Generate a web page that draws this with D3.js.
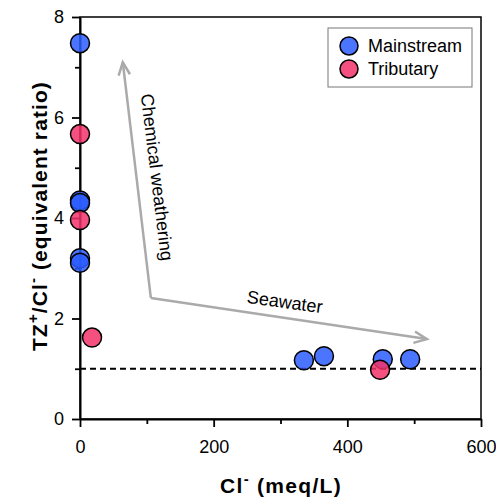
<!DOCTYPE html>
<html>
<head>
<meta charset="utf-8">
<script src="https://cdn.jsdelivr.net/npm/d3@7"></script>
<style>
  body { margin: 0; background: #fff; }
  svg text { font-family: "Liberation Sans", Arial, Helvetica, sans-serif; }
</style>
</head>
<body>
<svg id="chart" width="496" height="500"></svg>
<script>
// Cl- concentration (meq/L) vs TZ+/Cl- equivalent ratio
const mainstreamCl    = [0, 0, 0, 0, 0, 335, 365, 453, 494];
const mainstreamRatio = [7.48, 4.35, 4.30, 3.20, 3.11, 1.17, 1.25, 1.19, 1.19];
const tributaryCl     = [0, 0, 18, 449];
const tributaryRatio  = [5.67, 3.96, 1.62, 0.98];

const xTicks = [0, 200, 400, 600];
const yTicks = [0, 2, 4, 6, 8];
const xMinorTicks = [100, 300, 500];
const yMinorTicks = [1, 3, 5, 7];

// Trend arrows (data space): corner, then the two tips
const weatheringArrow = [[106, 2.41], [64, 7.1]];
const seawaterArrow   = [[106, 2.41], [519, 1.59]];
const referenceRatio = 1;

const svg = d3.select("#chart");
const x = d3.scaleLinear().domain([0, 600]).range([80, 481]);
const y = d3.scaleLinear().domain([0, 8]).range([419, 17]);

// Frame
svg.append("rect")
  .attr("x", x(0)).attr("y", y(8))
  .attr("width", x(600) - x(0)).attr("height", y(0) - y(8))
  .attr("fill", "none").attr("stroke", "#000").attr("stroke-width", 1.5);

// Axes
svg.append("g").attr("transform", `translate(0,${y(0)})`)
  .call(d3.axisBottom(x).tickValues(xTicks).tickSize(8).tickSizeOuter(0).tickPadding(13));
svg.append("g").attr("transform", `translate(0,${y(0)})`)
  .call(d3.axisBottom(x).tickValues(xMinorTicks).tickSize(5).tickFormat("").tickSizeOuter(0))
  .select(".domain").remove();
svg.append("g").attr("transform", `translate(${x(0)},0)`)
  .call(d3.axisLeft(y).tickValues(yTicks).tickSize(8).tickSizeOuter(0).tickPadding(8));
svg.append("g").attr("transform", `translate(${x(0)},0)`)
  .call(d3.axisLeft(y).tickValues(yMinorTicks).tickSize(5).tickFormat("").tickSizeOuter(0))
  .select(".domain").remove();

svg.selectAll(".domain").attr("stroke-width", 2);
svg.selectAll(".tick line").attr("stroke", "#000").attr("stroke-width", 1.8);
svg.selectAll(".tick text").attr("font-size", 18).attr("fill", "#000")
  .style("font-family", "'Liberation Sans', Arial, sans-serif");

// Reference line at ratio = 1
svg.append("line")
  .attr("x1", x(0)).attr("x2", x(600))
  .attr("y1", y(referenceRatio)).attr("y2", y(referenceRatio))
  .attr("stroke", "#000").attr("stroke-width", 2).attr("stroke-dasharray", "6,4");

// Arrows
const arrowColor = "#aaaaaa";
function arrow(pts) {
  const p0 = [x(pts[0][0]), y(pts[0][1])];
  const p1 = [x(pts[1][0]), y(pts[1][1])];
  svg.append("line")
    .attr("x1", p0[0]).attr("y1", p0[1]).attr("x2", p1[0]).attr("y2", p1[1])
    .attr("stroke", arrowColor).attr("stroke-width", 2.5);
  const ang = Math.atan2(p1[1] - p0[1], p1[0] - p0[0]);
  const len = 14, spread = 0.42;
  const a1 = [p1[0] - len * Math.cos(ang - spread), p1[1] - len * Math.sin(ang - spread)];
  const a2 = [p1[0] - len * Math.cos(ang + spread), p1[1] - len * Math.sin(ang + spread)];
  svg.append("path")
    .attr("d", `M${a1[0]},${a1[1]}L${p1[0]},${p1[1]}L${a2[0]},${a2[1]}`)
    .attr("fill", "none").attr("stroke", arrowColor).attr("stroke-width", 2.5)
    .attr("stroke-linejoin", "miter");
}
arrow(weatheringArrow);
arrow(seawaterArrow);

svg.append("text")
  .attr("transform", "translate(151,178) rotate(83)")
  .attr("text-anchor", "middle").attr("font-size", 18)
  .text("Chemical weathering");
svg.append("text")
  .attr("transform", "translate(284,308) rotate(7.8)")
  .attr("text-anchor", "middle").attr("font-size", 18)
  .text("Seawater");

// Points
const blue = "#2c5cff", pink = "#f2336a";
function points(xs, ys, color) {
  svg.append("g").selectAll("circle")
    .data(xs.map((v, i) => [v, ys[i]]))
    .join("circle")
    .attr("cx", d => x(d[0])).attr("cy", d => y(d[1])).attr("r", 9.5)
    .attr("fill", color).attr("fill-opacity", 0.85)
    .attr("stroke", "#000").attr("stroke-width", 1.5);
}
points(mainstreamCl, mainstreamRatio, blue);
points(tributaryCl, tributaryRatio, pink);

// Legend
const legend = svg.append("g");
legend.append("rect")
  .attr("x", 328).attr("y", 28).attr("width", 144).attr("height", 59)
  .attr("fill", "#fff").attr("stroke", "#777").attr("stroke-width", 1);
[["Mainstream", blue], ["Tributary", pink]].forEach(([name, color], i) => {
  legend.append("circle").attr("cx", 349).attr("cy", 46 + i * 23).attr("r", 9)
    .attr("fill", color).attr("fill-opacity", 0.85)
    .attr("stroke", "#000").attr("stroke-width", 1.5);
  legend.append("text").attr("x", 368).attr("y", 46 + i * 23 + 6)
    .attr("font-size", 18).text(name);
});

// Axis titles
const xt = svg.append("text")
  .attr("x", 281).attr("y", 493).attr("text-anchor", "middle")
  .attr("font-size", 21).attr("font-weight", "bold").attr("letter-spacing", 1.3);
xt.append("tspan").text("Cl");
xt.append("tspan").attr("dy", -9).attr("font-size", 15).text("-");
xt.append("tspan").attr("dy", 9).text(" (meq/L)");

const yt = svg.append("text")
  .attr("transform", "translate(47,216) rotate(-90)")
  .attr("text-anchor", "middle").attr("font-size", 21).attr("font-weight", "bold")
  .attr("letter-spacing", 1.1);
yt.append("tspan").text("TZ");
yt.append("tspan").attr("dy", -9).attr("font-size", 15).text("+");
yt.append("tspan").attr("dy", 9).text("/Cl");
yt.append("tspan").attr("dy", -9).attr("font-size", 15).text("-");
yt.append("tspan").attr("dy", 9).text(" (equivalent ratio)");
</script>
</body>
</html>
